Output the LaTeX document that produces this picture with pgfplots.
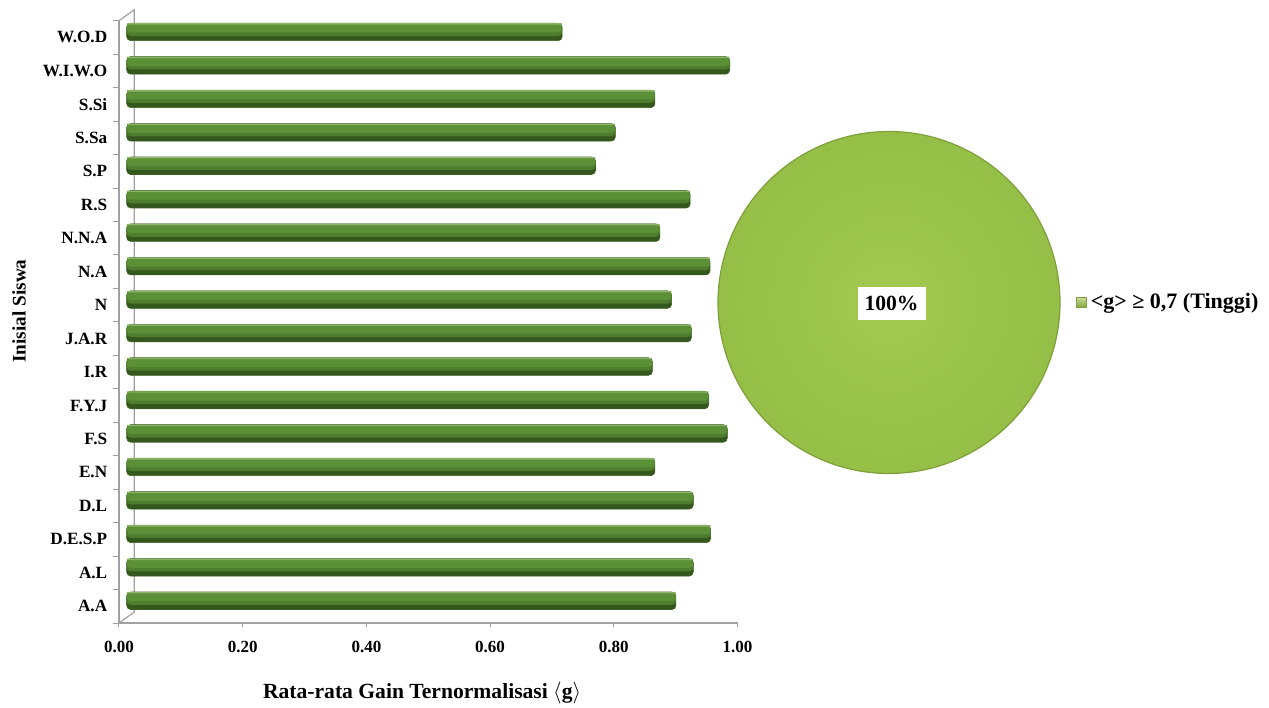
\documentclass[border=0pt]{standalone}
\usepackage{fontspec}
\setmainfont{Liberation Serif}
\usepackage{pgfplots}
\pgfplotsset{compat=1.18}
\usepackage{pgfplotstable}

% colours of the cylinders, the pie and the chart frame
\definecolor{barLight}{HTML}{8CB46A}
\definecolor{barMid}{HTML}{5C9036}
\definecolor{barMid2}{HTML}{4E7E2D}
\definecolor{barBot}{HTML}{33571C}
\definecolor{barEdge}{HTML}{3A5F21}
\definecolor{pieIn}{HTML}{A3CA51}
\definecolor{pieOut}{HTML}{95BF46}
\definecolor{pieEdge}{HTML}{7E9F3A}
\definecolor{frameGray}{HTML}{A0A0A0}

% normalised gain per student (0 = A.A at the bottom ... 17 = W.O.D at the top)
\pgfplotstableread{
idx gain
0  0.888
1  0.916
2  0.944
3  0.916
4  0.854
5  0.971
6  0.941
7  0.850
8  0.913
9  0.881
10 0.943
11 0.862
12 0.911
13 0.758
14 0.790
15 0.854
16 0.975
17 0.704
}\gaindata

% share of students in the "Tinggi" category, in percent
\def\pieshare{100}

% depth offset of the pseudo-3D frame
\def\dx{7.65pt}
\def\dy{5.5pt}

\begin{document}
\begin{tikzpicture}
\path[use as bounding box] (0,0) rectangle (634.5pt,353.5pt);

\begin{axis}[
  at={(59.5pt,42pt)}, anchor=south west,
  scale only axis, width=309.25pt, height=301.15pt,
  xmin=0, xmax=1, ymin=-0.5, ymax=17.5,
  axis lines*=left,
  axis line style={frameGray, line width=0.6pt},
  tick align=outside,
  xtick={0,0.2,0.4,0.6,0.8,1},
  major x tick style={frameGray, line width=0.5pt},
  major tick length=2.2pt,
  ytick={0,...,17},
  major y tick style={draw=none},
  minor ytick={-0.5,0.5,...,17.5},
  minor y tick style={frameGray, line width=0.5pt},
  minor tick length=3pt,
  yticklabels={A.A,A.L,D.E.S.P,D.L,E.N,F.S,F.Y.J,I.R,J.A.R,N,N.A,N.N.A,R.S,S.P,S.Sa,S.Si,W.I.W.O,W.O.D},
  /pgf/number format/assume math mode=true,
  xticklabel style={/pgf/number format/.cd, fixed, fixed zerofill, precision=2, /tikz/.cd,
    font=\bfseries\fontsize{8.5}{10}\selectfont, inner sep=0pt, anchor=north, yshift=-6.5pt},
  yticklabel style={font=\bfseries\fontsize{8.6}{10}\selectfont, inner sep=0pt, anchor=east, xshift=-3.5pt},
  xlabel={Rata-rata Gain Ternormalisasi \ensuremath{\langle}g\ensuremath{\rangle}},
  xlabel style={at={(axis description cs:0.49,0)}, anchor=center, yshift=-35pt,
    font=\bfseries\fontsize{10.8}{12}\selectfont},
  ylabel={Inisial Siswa},
  ylabel style={at={(axis description cs:-0.1617,0.518)}, anchor=center,
    font=\bfseries\fontsize{9.6}{12}\selectfont},
  clip=false,
  cyl/.style={xbar, xshift=3.85pt, draw=none, rounded corners=2pt},
]
  % back wall edge and the two depth diagonals
  \draw[frameGray, line width=0.6pt]
    (axis cs:0,17.5) -- ([xshift=\dx,yshift=\dy]axis cs:0,17.5)
    -- ([xshift=\dx,yshift=\dy]axis cs:0,-0.5) -- (axis cs:0,-0.5);
  % cylinders, built up from the dark body to the highlighted top
  \addplot[cyl, bar width=8.75pt, yshift=2.75pt, fill=barBot,
    draw=barEdge, line width=0.3pt]
    table[x=gain, y=idx]{\gaindata};
  \addplot[cyl, bar width=6.4pt, yshift=3.9pt, fill=barMid2]
    table[x=gain, y=idx]{\gaindata};
  \addplot[cyl, bar width=4.4pt, yshift=4.7pt, fill=barMid]
    table[x=gain, y=idx]{\gaindata};
  \addplot[cyl, bar width=0.7pt, yshift=6.75pt, fill=barLight, rounded corners=0.3pt]
    table[x=gain, y=idx]{\gaindata};
\end{axis}

\begin{axis}[
  at={(444.5pt,202.25pt)}, anchor=center,
  scale only axis, width=171pt, height=171pt,
  xmin=-1, xmax=1, ymin=-1, ymax=1,
  hide axis, clip=false,
  legend style={at={(1.045,0.5)}, anchor=west, draw=none, fill=none,
    inner sep=0pt, font=\bfseries\fontsize{11}{12}\selectfont},
  legend cell align=left,
  legend image code/.code={
    \path[draw=pieEdge, line width=0.3pt, top color=pieIn!60!white, bottom color=pieOut!85!black]
      (0pt,-2.6pt) rectangle (5.2pt,2.6pt);},
]
  \addplot[draw=pieEdge, line width=0.6pt, inner color=pieIn, outer color=pieOut,
    domain=90-3.6*\pieshare:90, samples=181, smooth]
    ({cos(x)},{sin(x)});
  \addlegendentry{<g> ≥ 0,7 (Tinggi)}
  \node[fill=white, inner xsep=3.5pt, inner ysep=4.5pt, font=\bfseries\fontsize{10.8}{12}\selectfont]
    at (axis cs:0.015,-0.005) {\pieshare\%};
\end{axis}
\end{tikzpicture}
\end{document}
